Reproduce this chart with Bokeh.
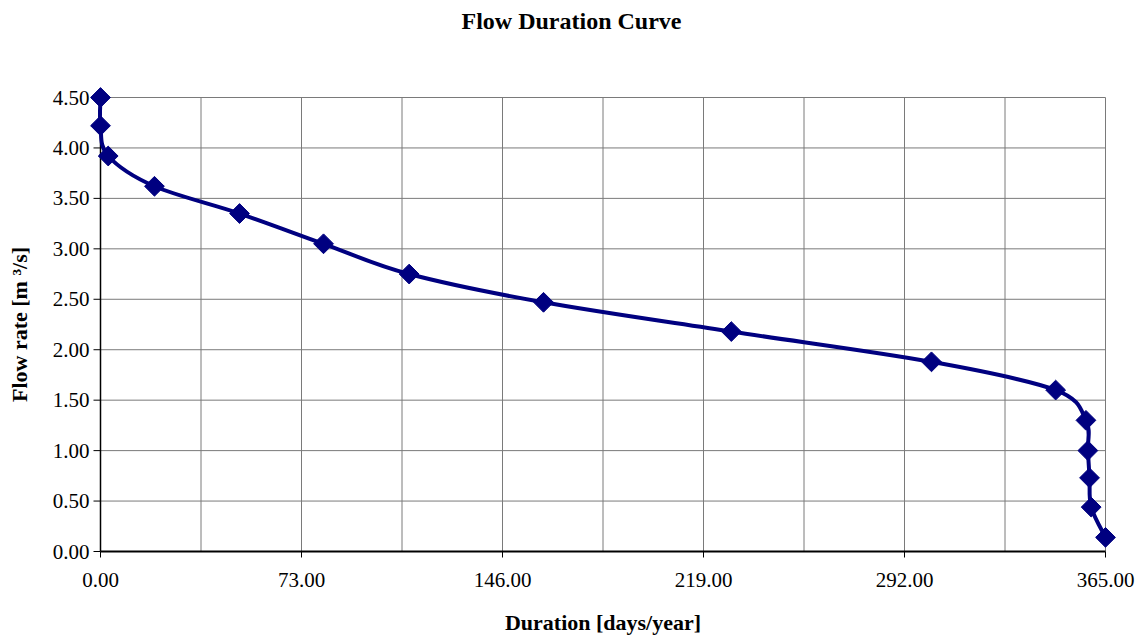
import numpy as np
from bokeh.plotting import figure
from bokeh.models import (Range1d, FixedTicker, LinearAxis, PrintfTickFormatter, Title)
from bokeh.embed import file_html
from bokeh.resources import INLINE

# ---- data ----
duration = [0.0, 0.0, 2.8, 19.6, 50.5, 81.0, 112.1, 160.9, 229.1, 301.8,
            346.9, 357.9, 358.6, 359.2, 359.8, 365.0]
flow = [4.50, 4.22, 3.92, 3.62, 3.35, 3.05, 2.75, 2.47, 2.18, 1.88,
        1.60, 1.30, 1.00, 0.73, 0.44, 0.14]
x_ticks = [0, 73, 146, 219, 292, 365]
x_grid = [36.5, 73, 109.5, 146, 182.5, 219, 255.5, 292, 328.5, 365]
y_ticks = [0, 0.5, 1.0, 1.5, 2.0, 2.5, 3.0, 3.5, 4.0, 4.5]
y_grid = [0.5, 1.0, 1.5, 2.0, 2.5, 3.0, 3.5, 4.0, 4.5]
X_MAX, Y_MAX = 365.0, 4.5

NAVY = "#000080"
SERIF = "Liberation Serif"

# pixel geometry of the plotting area
PX_X = 1005 / X_MAX   # px per day
PX_Y = 454 / Y_MAX    # px per unit flow
PAD = 11

W, H = 1140, 638
FR_L = 100 - PAD
FR_R = 1105 + PAD
FR_T = 97 - PAD
FR_B = 551 + PAD

p = figure(width=W, height=H, output_backend="svg", toolbar_location=None,
           x_range=Range1d(-PAD / PX_X, X_MAX + PAD / PX_X),
           y_range=Range1d(-PAD / PX_Y, Y_MAX + PAD / PX_Y),
           x_axis_type=None, y_axis_type=None,
           min_border_left=FR_L, min_border_right=W - FR_R,
           min_border_top=FR_T, min_border_bottom=H - FR_B)
p.outline_line_color = None
p.background_fill_color = "white"
p.border_fill_color = "white"

# spacer between frame and title, then the title itself
p.add_layout(Title(text=" ", standoff=45, text_font_size="1px"), "above")
p.add_layout(Title(text="Flow Duration Curve", align="left", offset=461 - FR_L,
                   standoff=10, text_font=SERIF, text_font_size="24px",
                   text_font_style="bold", text_color="black"), "above")

# grid lines
GRID = "#7a7a7a"
p.segment(x0=x_grid, y0=[0] * len(x_grid), x1=x_grid, y1=[Y_MAX] * len(x_grid),
          line_color=GRID, line_width=1)
p.segment(x0=[0] * len(y_grid), y0=y_grid, x1=[X_MAX] * len(y_grid), y1=y_grid,
          line_color=GRID, line_width=1)

# axis lines and tick marks at x = 0 / y = 0
tx = 7 / PX_X
ty = 6 / PX_Y
p.segment(x0=[0], y0=[0], x1=[0], y1=[Y_MAX], line_color="black", line_width=1.5)
p.segment(x0=[0] * len(y_ticks), y0=y_ticks, x1=[-tx] * len(y_ticks), y1=y_ticks,
          line_color="black", line_width=1)
p.segment(x0=[0], y0=[0], x1=[X_MAX], y1=[0], line_color="black", line_width=2)
p.segment(x0=x_ticks, y0=[0] * len(x_ticks), x1=x_ticks, y1=[-ty] * len(x_ticks),
          line_color="black", line_width=1)

# axes (labels only)
xa = LinearAxis(ticker=FixedTicker(ticks=x_ticks),
                formatter=PrintfTickFormatter(format="%.2f"),
                axis_label="Duration [days/year]")
ya = LinearAxis(ticker=FixedTicker(ticks=y_ticks),
                formatter=PrintfTickFormatter(format="%.2f"),
                axis_label="Flow rate [m ³/s]")
for ax in (xa, ya):
    ax.axis_line_color = None
    ax.major_tick_line_color = None
    ax.minor_tick_line_color = None
    ax.major_tick_in = 0
    ax.major_tick_out = 0
    ax.major_label_text_font = SERIF
    ax.major_label_text_font_size = "21px"
    ax.major_label_text_color = "black"
    ax.axis_label_text_font = SERIF
    ax.axis_label_text_font_size = "22px"
    ax.axis_label_text_font_style = "bold"
    ax.axis_label_text_color = "black"
xa.major_label_standoff = 10
xa.axis_label_standoff = 20
ya.major_label_standoff = 0
ya.axis_label_standoff = 18
p.add_layout(xa, "below")
p.add_layout(ya, "left")

# smoothed line (Catmull-Rom bezier through the data points)
xs = np.array(duration)
ys = np.array(flow)
xp = np.concatenate([[xs[0]], xs, [xs[-1]]])
yp = np.concatenate([[ys[0]], ys, [ys[-1]]])
n = len(xs)
x0 = xs[:-1]; y0 = ys[:-1]; x1 = xs[1:]; y1 = ys[1:]
cx0 = xp[1:n] + (xp[2:n + 1] - xp[0:n - 1]) / 6
cy0 = yp[1:n] + (yp[2:n + 1] - yp[0:n - 1]) / 6
cx1 = xp[2:n + 1] - (xp[3:n + 2] - xp[1:n]) / 6
cy1 = yp[2:n + 1] - (yp[3:n + 2] - yp[1:n]) / 6
p.bezier(x0=x0, y0=y0, x1=x1, y1=y1, cx0=cx0, cy0=cy0, cx1=cx1, cy1=cy1,
         line_color=NAVY, line_width=4, line_cap="round")

# markers
p.scatter(duration, flow, marker="square", size=14, angle=np.pi / 4,
          fill_color=NAVY, line_color=NAVY, line_width=1)

open("out.html", "w").write(file_html(p, INLINE))
